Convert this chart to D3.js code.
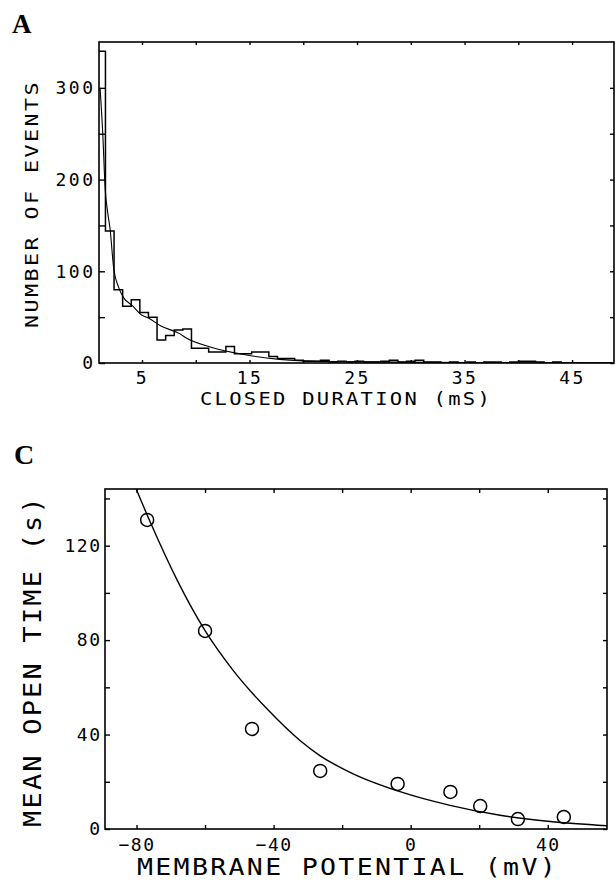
<!DOCTYPE html>
<html>
<head>
<meta charset="utf-8">
<script src="https://cdn.jsdelivr.net/npm/d3@7"></script>
<style>
  body { margin: 0; background: #fff; }
  svg { display: block; }
  text { font-family: 'DejaVu Sans Mono', monospace; fill: #000; }
</style>
</head>
<body>
<svg id="fig" width="615" height="881"></svg>
<script>
// ---- Panel A data: closed-duration histogram, 0.8 ms bins ----
const closedBinStart = 0.8;
const closedBinWidth = 0.8;
const closedCounts = [
  340, 144, 80, 62, 69, 55, 50, 25, 30, 36,
  37, 16, 16, 12, 12, 18, 10, 10, 12, 12,
  7, 5, 5, 3, 2, 2, 3, 1, 2, 1,
  2, 1, 1, 2, 3, 1, 2, 3, 1, 1,
  0, 1, 0, 1, 0, 1, 1, 0, 1, 2,
  2, 1, 0, 1, 0, 0, 0, 0, 0, 0, 0
];
// fitted curve (ms, events)
const closedFitX = [1.1, 1.35, 1.58, 1.8, 2.04, 2.35, 2.81, 3.3, 4.05, 5.0, 5.6, 6.8, 8.5, 9.0, 11.5, 14.6, 17.8, 20.9, 25, 35, 48.9];
const closedFitY = [300, 250, 189, 165, 145, 105, 83, 71, 63, 52, 49, 40, 32, 28, 17, 9, 4, 2, 1.2, 0.4, 0];
const closedXTicks = [5, 10, 15, 20, 25, 30, 35, 40, 45];
const closedXLabels = [5, 15, 25, 35, 45];
const countTicks = [0, 50, 100, 150, 200, 250, 300];
const countLabels = [0, 100, 200, 300];

// ---- Panel C data: mean open time vs membrane potential ----
const potential = [-76.9, -60.0, -46.3, -26.4, -3.8, 11.6, 20.3, 31.3, 44.7];
const meanOpen = [130.9, 83.9, 42.4, 24.6, 19.1, 15.7, 9.7, 4.2, 5.1];
const openFitX = [-80.1, -76, -68, -60, -51.7, -42, -32.3, -26.4, -17.7, -3.1, 11.5, 26.1, 40.7, 57.3];
const openFitY = [144, 130, 105, 84, 67, 51, 37.5, 31, 24, 15.8, 10, 5.8, 3.2, 1.4];
const potTicks = [-80, -60, -40, -20, 0, 20, 40];
const potLabels = [-80, -40, 0, 40];
const openTicks = [0, 20, 40, 60, 80, 100, 120, 140];
const openLabels = [0, 40, 80, 120];

const svg = d3.select('#fig');
const fmt = d => String(d).replace('-', '\u2212');

function drawFrame(g, x, y, o) {
  const [x0, x1] = x.range(), [y0, y1] = y.range();

  // bottom axis with labels
  const bottom = g.append('g')
    .attr('transform', `translate(0,${y0})`)
    .call(d3.axisBottom(x).tickValues(o.xTicks).tickSize(-o.tb)
      .tickPadding(o.xPad)
      .tickFormat(d => o.xLabels.includes(d) ? fmt(d) : ''));
  // top axis, ticks only
  const top = g.append('g')
    .attr('transform', `translate(0,${y1})`)
    .call(d3.axisTop(x).tickValues(o.xTicks).tickSize(-o.tt).tickFormat(''));
  // left axis with labels
  const left = g.append('g')
    .attr('transform', `translate(${x0},0)`)
    .call(d3.axisLeft(y).tickValues(o.yTicks).tickSize(-o.tl)
      .tickPadding(o.yPad)
      .tickFormat(d => o.yLabels.includes(d) ? fmt(d) : ''));
  // right axis, ticks only
  const right = g.append('g')
    .attr('transform', `translate(${x1},0)`)
    .call(d3.axisRight(y).tickValues(o.yTicks).tickSize(-o.tr).tickFormat(''));

  [bottom, top, left, right].forEach(a => {
    a.select('.domain').remove();
    a.selectAll('line').attr('stroke', '#000').attr('stroke-width', 1.4);
    a.selectAll('text')
      .attr('font-family', "'DejaVu Sans Mono', monospace")
      .attr('font-size', o.tickFont)
      .attr('letter-spacing', o.tickSpacing)
      .attr('fill', '#000');
  });
  left.selectAll('text').attr('dx', o.tickSpacing);

  g.append('rect')
    .attr('x', x0).attr('y', y1)
    .attr('width', x1 - x0).attr('height', y0 - y1)
    .attr('fill', 'none')
    .attr('stroke', '#000')
    .attr('stroke-width', 1.6);
}

// axis title stretched to the width it has in the figure
function title(g, str, cx, cy, rot, size, len) {
  g.append('text')
    .attr('transform', `translate(${cx},${cy})` + (rot ? ' rotate(-90)' : ''))
    .attr('text-anchor', 'middle')
    .attr('font-size', size)
    .attr('letter-spacing', 2)
    .attr('textLength', len)
    .attr('lengthAdjust', 'spacingAndGlyphs')
    .text(str);
}

// ================= Panel A =================
const xA = d3.scaleLinear().domain([1, 48.9]).range([99, 614]);
const yA = d3.scaleLinear().domain([0, 350]).range([363, 42]);
const gA = svg.append('g');

gA.append('clipPath').attr('id', 'clipA')
  .append('rect')
    .attr('x', 99).attr('y', 42)
    .attr('width', 614 - 99).attr('height', 363 - 42);

// histogram outline as a step path
const stepPts = [];
closedCounts.forEach((c, i) => {
  const e0 = closedBinStart + i * closedBinWidth;
  stepPts.push([e0, c], [e0 + closedBinWidth, c]);
});
gA.append('path')
  .attr('clip-path', 'url(#clipA)')
  .attr('d', d3.line().x(d => xA(d[0])).y(d => yA(d[1]))(stepPts))
  .attr('fill', 'none')
  .attr('stroke', '#000')
  .attr('stroke-width', 1.5);

gA.append('path')
  .attr('clip-path', 'url(#clipA)')
  .attr('d', d3.line()
    .x(d => xA(d[0])).y(d => yA(d[1]))
    .curve(d3.curveMonotoneX)(d3.zip(closedFitX, closedFitY)))
  .attr('fill', 'none')
  .attr('stroke', '#000')
  .attr('stroke-width', 1.1);

drawFrame(gA, xA, yA, {
  xTicks: closedXTicks, xLabels: closedXLabels,
  yTicks: countTicks, yLabels: countLabels,
  tb: 3, tt: 3, tl: 6, tr: 4,
  xPad: 8, yPad: 6, tickFont: 18, tickSpacing: 2.5
});

title(gA, 'CLOSED DURATION (mS)', 346, 405, false, 18, 292);
title(gA, 'NUMBER OF EVENTS', 38, 204, true, 18, 248);

gA.append('text')
  .attr('x', 12).attr('y', 33)
  .style('font-family', "'Liberation Serif', 'Times New Roman', serif")
  .style('font-weight', 'bold')
  .attr('font-size', 27)
  .text('A');

// ================= Panel C =================
const xC = d3.scaleLinear().domain([-89.2, 57.3]).range([105, 607]);
const yC = d3.scaleLinear().domain([0, 144]).range([829, 489]);
const gC = svg.append('g');

gC.append('clipPath').attr('id', 'clipC')
  .append('rect')
    .attr('x', 105).attr('y', 489)
    .attr('width', 607 - 105).attr('height', 829 - 489);

gC.append('path')
  .attr('clip-path', 'url(#clipC)')
  .attr('d', d3.line()
    .x(d => xC(d[0])).y(d => yC(d[1]))
    .curve(d3.curveMonotoneX)(d3.zip(openFitX, openFitY)))
  .attr('fill', 'none')
  .attr('stroke', '#000')
  .attr('stroke-width', 1.4);

gC.selectAll('circle.pt')
  .data(d3.zip(potential, meanOpen))
  .enter()
  .append('circle')
    .attr('class', 'pt')
    .attr('cx', d => xC(d[0]))
    .attr('cy', d => yC(d[1]))
    .attr('r', 6.5)
    .attr('fill', 'none')
    .attr('stroke', '#000')
    .attr('stroke-width', 1.5);

drawFrame(gC, xC, yC, {
  xTicks: potTicks, xLabels: potLabels,
  yTicks: openTicks, yLabels: openLabels,
  tb: 4, tt: 4, tl: 5, tr: 4,
  xPad: 9, yPad: 5, tickFont: 18, tickSpacing: 1.5
});

title(gC, 'MEMBRANE POTENTIAL (mV)', 347.5, 875, false, 23, 421);
title(gC, 'MEAN OPEN TIME (s)', 41, 661, true, 24, 332);

gC.append('text')
  .attr('x', 14).attr('y', 464)
  .style('font-family', "'Liberation Serif', 'Times New Roman', serif")
  .style('font-weight', 'bold')
  .attr('font-size', 28)
  .text('C');
</script>
</body>
</html>
